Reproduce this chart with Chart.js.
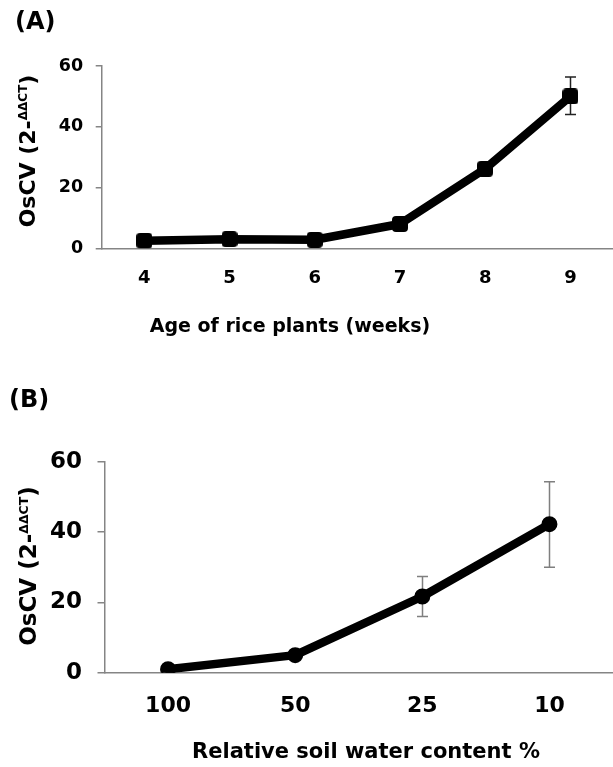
<!DOCTYPE html>
<html>
<head>
<meta charset="utf-8">
<script src="https://cdn.jsdelivr.net/npm/chart.js@4.4.1/dist/chart.umd.min.js"></script>
<style>
  html, body { margin: 0; padding: 0; background: #fff; overflow: hidden; width: 613px; height: 767px; }
  canvas { display: block; }
  #wrapA { position: absolute; left: 0; top: 0; width: 613px; height: 370px; }
  #wrapB { position: absolute; left: 0; top: 370px; width: 613px; height: 397px; }
</style>
</head>
<body>
<div id="wrapA"><canvas id="chartA" width="613" height="370"></canvas></div>
<div id="wrapB"><canvas id="chartB" width="613" height="397"></canvas></div>
<script>
// ---------- DATA ----------
const weeks = ['4', '5', '6', '7', '8', '9'];
const expressionA = [2.5, 3.0, 2.8, 8.0, 26.2, 50.0];
const errLowA  = [null, null, null, null, null, 44.0];
const errHighA = [null, null, null, null, null, 56.4];

const soilWater = ['100', '50', '25', '10'];
const expressionB = [1.0, 5.0, 21.7, 42.3];
const errLowB  = [null, null, 16.0, 30.0];
const errHighB = [null, null, 27.4, 54.4];

const yTickValues = [0, 20, 40, 60];

const titleA = '(A)';
const titleB = '(B)';
const xTitleA = 'Age of rice plants (weeks)';
const xTitleB = 'Relative soil water content %';
const yTitleMain = 'OsCV (2-';
const yTitleSup = 'ΔΔCT';
const yTitleEnd = ')';

// ---------- STYLE ----------
const FONT = '"DejaVu Sans", Verdana, sans-serif';
const AXIS_GRAY = '#858585';

function roundedSquare(size, r) {
  const c = document.createElement('canvas');
  c.width = size; c.height = size;
  const g = c.getContext('2d');
  g.fillStyle = '#000';
  g.beginPath();
  g.moveTo(r, 0); g.lineTo(size - r, 0); g.quadraticCurveTo(size, 0, size, r);
  g.lineTo(size, size - r); g.quadraticCurveTo(size, size, size - r, size);
  g.lineTo(r, size); g.quadraticCurveTo(0, size, 0, size - r);
  g.lineTo(0, r); g.quadraticCurveTo(0, 0, r, 0);
  g.closePath(); g.fill();
  return c;
}
const squareMarker = roundedSquare(16, 4);

const errorBarPlugin = {
  id: 'errorBars',
  beforeDatasetsDraw(chart, args, o) {
    const ctx = chart.ctx, xs = chart.scales.x, ys = chart.scales.y;
    ctx.save();
    ctx.strokeStyle = o.color;
    ctx.lineWidth = o.width;
    o.low.forEach((lo, i) => {
      const hi = o.high[i];
      if (lo == null || hi == null) return;
      const px = Math.round(xs.getPixelForValue(i)) + 0.5;
      const pLo = ys.getPixelForValue(lo), pHi = ys.getPixelForValue(hi);
      ctx.beginPath();
      ctx.moveTo(px, pLo); ctx.lineTo(px, pHi);
      ctx.moveTo(px - o.cap, pLo); ctx.lineTo(px + o.cap, pLo);
      ctx.moveTo(px - o.cap, pHi); ctx.lineTo(px + o.cap, pHi);
      ctx.stroke();
    });
    ctx.restore();
  }
};

const axisTitlePlugin = {
  id: 'axisTitles',
  afterDraw(chart, args, o) {
    const ctx = chart.ctx;
    ctx.save();
    ctx.fillStyle = '#000';
    ctx.font = 'bold ' + o.xSize + 'px ' + FONT;
    ctx.textAlign = 'center';
    ctx.textBaseline = 'middle';
    ctx.fillText(o.xText, o.xX, o.xY);
    ctx.translate(o.yX, o.yY);
    ctx.rotate(-Math.PI / 2);
    ctx.textAlign = 'left';
    ctx.textBaseline = 'alphabetic';
    const parts = [
      { t: o.yMain, s: o.ySize, dy: 0 },
      { t: o.ySup, s: o.supSize, dy: -o.ySize * 0.38 },
      { t: o.yEnd, s: o.ySize, dy: 0 }
    ];
    let total = 0;
    parts.forEach(p => { ctx.font = 'bold ' + p.s + 'px ' + FONT; p.w = ctx.measureText(p.t).width; total += p.w; });
    let x = -total / 2;
    const base = o.ySize * 0.36;
    parts.forEach(p => {
      ctx.font = 'bold ' + p.s + 'px ' + FONT;
      ctx.fillText(p.t, x, base + p.dy);
      x += p.w;
    });
    ctx.restore();
  }
};

function makeChart(id, cfg) {
  return new Chart(document.getElementById(id), {
    type: 'line',
    data: {
      labels: cfg.labels,
      datasets: [{
        data: cfg.values,
        borderColor: '#000',
        borderWidth: 8.5,
        borderJoinStyle: 'round',
        borderCapStyle: 'round',
        tension: 0,
        pointStyle: cfg.pointStyle,
        pointRadius: cfg.pointRadius,
        pointBorderWidth: cfg.pointBorder,
        pointBackgroundColor: '#000',
        pointBorderColor: '#000',
        fill: false
      }]
    },
    options: {
      responsive: false,
      animation: false,
      events: [],
      layout: { autoPadding: false, padding: { left: cfg.padLeft, right: 0, top: 0, bottom: 0 } },
      plugins: {
        legend: { display: false },
        tooltip: { enabled: false },
        title: {
          display: true, text: cfg.title, align: 'start', color: '#000',
          font: { family: FONT, size: 24, weight: 'bold', lineHeight: 1.2 },
          padding: { top: cfg.titleTop, bottom: cfg.titleBottom }
        },
        errorBars: { low: cfg.errLow, high: cfg.errHigh, color: cfg.errColor, width: 1.5, cap: 5.5 },
        axisTitles: cfg.axisTitles
      },
      scales: {
        x: {
          type: 'category',
          offset: true,
          grid: { display: false, drawTicks: false },
          border: { display: true, color: AXIS_GRAY, width: 1.5 },
          ticks: { color: '#000', font: { family: FONT, size: cfg.xTickSize, weight: 'bold' }, padding: cfg.xTickPad, maxRotation: 0, autoSkip: false },
          afterFit(s) { s.height = cfg.xHeight; s.paddingLeft = 0; s.paddingRight = 0; }
        },
        y: {
          min: 0, max: 60,
          afterBuildTicks(s) { s.ticks = yTickValues.map(v => ({ value: v })); },
          grid: { display: true, drawOnChartArea: false, drawTicks: true, tickLength: cfg.tickLen, color: AXIS_GRAY, lineWidth: 1.5 },
          border: { display: true, color: AXIS_GRAY, width: 1.5 },
          ticks: { color: '#000', font: { family: FONT, size: cfg.yTickSize, weight: 'bold' }, padding: cfg.yTickPad },
          afterFit(s) { s.width = cfg.yWidth; s.paddingTop = 0; s.paddingBottom = 0; }
        }
      }
    },
    plugins: [errorBarPlugin, axisTitlePlugin]
  });
}

makeChart('chartA', {
  labels: weeks, values: expressionA, errLow: errLowA, errHigh: errHighA,
  errColor: '#222', pointStyle: squareMarker, pointRadius: 8, pointBorder: 0,
  title: titleA, padLeft: 15, titleTop: 8.6, titleBottom: 28.6,
  xHeight: 121.7, yWidth: 86.7, tickLen: 6,
  xTickSize: 18, xTickPad: 19, yTickSize: 17.5, yTickPad: 12.5,
  axisTitles: { xText: xTitleA, xSize: 19, xX: 290, xY: 327,
    yMain: yTitleMain, ySup: yTitleSup, yEnd: yTitleEnd, ySize: 22, supSize: 12, yX: 27, yY: 151 }
});

makeChart('chartB', {
  labels: soilWater, values: expressionB, errLow: errLowB, errHigh: errHighB,
  errColor: '#7f7f7f', pointStyle: 'circle', pointRadius: 7, pointBorder: 2,
  title: titleB, padLeft: 9, titleTop: 16.6, titleBottom: 46.6,
  xHeight: 94.3, yWidth: 95.5, tickLen: 7,
  xTickSize: 22, xTickPad: 20.8, yTickSize: 23, yTickPad: 15.6,
  axisTitles: { xText: xTitleB, xSize: 21, xX: 366, xY: 383,
    yMain: yTitleMain, ySup: yTitleSup, yEnd: yTitleEnd, ySize: 23, supSize: 12.5, yX: 28, yY: 196 }
});
</script>
</body>
</html>
